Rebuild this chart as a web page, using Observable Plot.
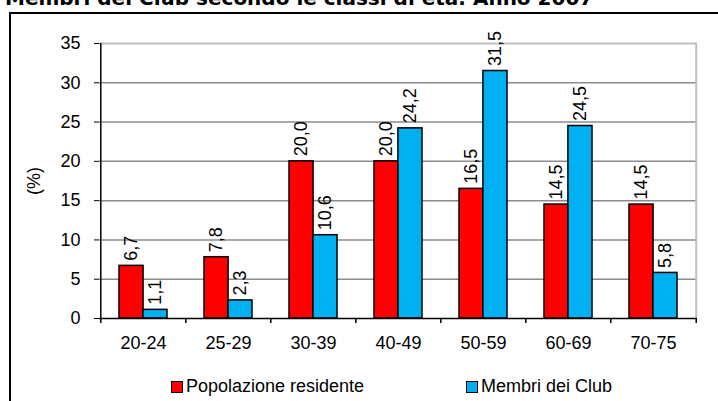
<!DOCTYPE html>
<html><head><meta charset="utf-8">
<script src="https://cdn.jsdelivr.net/npm/d3@7"></script>
<script src="https://cdn.jsdelivr.net/npm/@observablehq/plot@0.6"></script>
<style>
body{margin:0;background:#fff;}
#wrap{position:relative;width:718px;height:401px;overflow:hidden;font-family:"Liberation Sans",Arial,sans-serif;color:#000;}
#frame{position:absolute;left:9px;top:12px;width:800px;height:500px;border-left:2px solid #000;border-top:2px solid #000;}
#title{position:absolute;left:5px;top:-12.4px;font:bold 20px "DejaVu Sans",sans-serif;line-height:20px;white-space:nowrap;}
#chart{position:absolute;left:0;top:0;}
#legend{position:absolute;top:376px;left:0;width:718px;height:22px;font-size:18px;}
.item{position:absolute;top:0;display:flex;align-items:center;line-height:normal;white-space:nowrap;}
.sw{width:10px;height:10px;border:1px solid #000;margin-right:3px;}
</style>
</head><body>
<div id="wrap">
  <div id="frame"></div>
  <div id="title"></div>
  <div id="chart"></div>
  <div id="legend"></div>
</div>
<script>
const titleText = "Membri dei Club secondo le classi di età. Anno 2007";
const categories = ["20-24","25-29","30-39","40-49","50-59","60-69","70-75"];
const popolazione = [6.7, 7.8, 20.0, 20.0, 16.5, 14.5, 14.5];
const membri = [1.1, 2.3, 10.6, 24.2, 31.5, 24.5, 5.8];
const seriesNames = ["Popolazione residente", "Membri dei Club"];
const seriesColors = ["#FF0000", "#00B0F0"];
const yTicks = [0, 5, 10, 15, 20, 25, 30, 35];
const yLabel = "(%)";

const W = 718, H = 345, mL = 99, mR = 21, mT = 43, mB = 27;
const step = (W - mL - mR) / categories.length;
const padInner = 0.44;
const bw = step * (1 - padInner);
const tickLen = 5 * (yTicks[yTicks.length-1] - yTicks[0]) / (H - mT - mB);
const fmt = v => d3.format(".1f")(v).replace(".", ",");

const data = categories.flatMap((c, i) => [
  {cat: c, serie: seriesNames[0], v: popolazione[i]},
  {cat: c, serie: seriesNames[1], v: membri[i]}
]);
const popData = data.filter(d => d.serie === seriesNames[0]);
const clubData = data.filter(d => d.serie === seriesNames[1]);
const yMax = yTicks[yTicks.length-1];
const first = categories[0], last = categories[categories.length-1];

document.getElementById("title").textContent = titleText;

const chart = Plot.plot({
  width: W, height: H,
  marginLeft: mL, marginRight: mR, marginTop: mT, marginBottom: mB,
  style: {fontFamily: "'Liberation Sans', Arial, sans-serif", fontSize: "18px", color: "#000", background: "transparent", overflow: "visible"},
  x: {domain: categories, paddingInner: padInner, paddingOuter: padInner/2, tickSize: 0, tickPadding: 18, label: null},
  y: {domain: [yTicks[0], yMax], ticks: yTicks, tickSize: 5, tickPadding: 14, label: yLabel, labelAnchor: "center", labelOffset: 72, labelArrow: "none"},
  color: {domain: seriesNames, range: seriesColors},
  marks: [
    Plot.ruleY(yTicks.filter(t => t > yTicks[0] && t < yMax), {stroke: "#8c8c8c", strokeWidth: 1.5}),
    Plot.ruleY([yMax], {stroke: "#c0c0c0", strokeWidth: 2}),
    Plot.ruleX([last], {dx: step/2, y1: yTicks[0], y2: yMax, stroke: "#c0c0c0", strokeWidth: 2}),
    Plot.barY(popData, {x: "cat", y: "v", fill: "serie", stroke: "#000", strokeWidth: 1.5, insetRight: bw/2}),
    Plot.barY(clubData, {x: "cat", y: "v", fill: "serie", stroke: "#000", strokeWidth: 1.5, insetLeft: bw/2}),
    Plot.text(popData, {x: "cat", y: "v", text: d => fmt(d.v), rotate: -90, textAnchor: "start", dx: -bw/4, dy: -5, fontSize: 18, fill: "#000"}),
    Plot.text(clubData, {x: "cat", y: "v", text: d => fmt(d.v), rotate: -90, textAnchor: "start", dx: bw/4, dy: -5, fontSize: 18, fill: "#000"}),
    Plot.ruleY([yTicks[0]], {stroke: "#000", strokeWidth: 1.5}),
    Plot.ruleX([first], {dx: -step/2, y1: yTicks[0] - tickLen, y2: yMax, stroke: "#000", strokeWidth: 1.5}),
    Plot.ruleX(categories.slice(1), {dx: -step/2, y1: yTicks[0] - tickLen, y2: yTicks[0], stroke: "#000", strokeWidth: 1.5}),
    Plot.ruleX([last], {dx: step/2, y1: yTicks[0] - tickLen, y2: yTicks[0], stroke: "#000", strokeWidth: 1.5})
  ]
});
document.getElementById("chart").appendChild(chart);

const legend = document.getElementById("legend");
const legendLeft = [171, 466];
seriesNames.forEach((name, i) => {
  const item = document.createElement("div");
  item.className = "item";
  item.style.left = legendLeft[i] + "px";
  const sw = document.createElement("span");
  sw.className = "sw";
  sw.style.background = seriesColors[i];
  const lab = document.createElement("span");
  lab.textContent = name;
  item.appendChild(sw); item.appendChild(lab);
  legend.appendChild(item);
});
</script>
</body></html>
